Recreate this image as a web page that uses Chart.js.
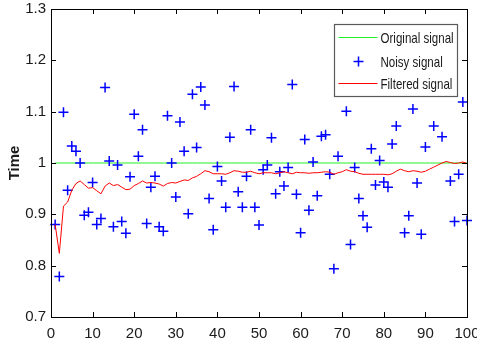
<!DOCTYPE html>
<html><head><meta charset="utf-8">
<script src="https://cdn.jsdelivr.net/npm/chart.js@4/dist/chart.umd.min.js"></script>
<style>html,body{margin:0;padding:0;background:#fff}#c{display:block}</style>
</head><body>
<canvas id="c" width="477" height="352"></canvas>
<script>
const sampleIndex = Array.from({length: 100}, (_, i) => i + 1);
const originalSignal = [
  1,1,1,1,1,1,1,1,1,1, 1,1,1,1,1,1,1,1,1,1,
  1,1,1,1,1,1,1,1,1,1, 1,1,1,1,1,1,1,1,1,1,
  1,1,1,1,1,1,1,1,1,1, 1,1,1,1,1,1,1,1,1,1,
  1,1,1,1,1,1,1,1,1,1, 1,1,1,1,1,1,1,1,1,1,
  1,1,1,1,1,1,1,1,1,1, 1,1,1,1,1,1,1,1,1,1
];
const noisySignal = [
  0.880,0.779,1.099,0.947,1.033,1.023,1.000,0.898,0.904,0.962,
  0.880,0.892,1.147,1.004,0.876,0.996,0.886,0.863,0.973,1.095,
  1.013,1.065,0.882,0.953,0.974,0.876,0.867,1.092,1.000,0.934,
  1.080,1.023,0.901,1.134,1.030,1.148,1.113,0.931,0.870,0.993,
  0.965,0.914,1.050,1.149,0.944,0.914,0.974,1.065,0.914,0.879,
  0.987,0.996,1.049,0.940,0.983,0.955,0.991,1.153,0.939,0.864,
  1.046,0.908,1.002,0.936,1.052,1.055,0.978,0.794,1.013,1.200,
  1.101,0.841,0.991,0.931,0.897,0.875,1.028,0.957,1.005,0.963,
  0.953,1.037,1.072,1.190,0.864,0.897,1.105,0.961,0.861,1.031,
  1.220,1.072,1.180,1.051,1.210,0.965,0.886,0.978,1.119,0.888
];
const filteredSignal = [
  0.880,0.824,0.916,0.924,0.947,0.960,0.965,0.958,0.951,0.952,
  0.946,0.940,0.955,0.961,0.956,0.958,0.953,0.948,0.949,0.956,
  0.960,0.965,0.961,0.962,0.961,0.959,0.955,0.960,0.962,0.961,
  0.964,0.967,0.966,0.971,0.974,0.979,0.985,0.983,0.979,0.979,
  0.979,0.978,0.981,0.985,0.984,0.982,0.982,0.984,0.981,0.979,
  0.981,0.981,0.981,0.979,0.981,0.983,0.981,0.979,0.982,0.981,
  0.981,0.980,0.981,0.981,0.982,0.983,0.982,0.978,0.981,0.983,
  0.987,0.984,0.983,0.980,0.978,0.978,0.978,0.978,0.978,0.978,
  0.977,0.979,0.984,0.988,0.985,0.983,0.985,0.984,0.982,0.984,
  0.988,0.992,0.996,1.000,1.003,1.001,0.999,1.000,1.002,0.999
];
const xTickValues = [0,10,20,30,40,50,60,70,80,90,100];
const xTickLabels = ['0','10','20','30','40','50','60','70','80','90','100'];
const yTickValues = [0.7,0.8,0.9,1.0,1.1,1.2,1.3];
const yTickLabels = ['0.7','0.8','0.9','1','1.1','1.2','1.3'];
const seriesNames = ['Original signal','Noisy signal','Filtered signal'];
const yAxisTitle = 'Time';

const FONT = "'Liberation Sans', Arial, sans-serif";
const TEXT = '#1a1a1a';
const GREEN = '#22ee22', BLUE = '#0000ff', RED = '#ff0000';

const toXY = arr => arr.map((v, i) => ({x: sampleIndex[i], y: v}));

const framePlugin = {
  id: 'frame',
  afterDraw(chart) {
    const {ctx, chartArea: a, scales} = chart;
    ctx.save();
    ctx.strokeStyle = '#000';
    ctx.lineWidth = 1;
    ctx.beginPath();
    const tl = 5;
    scales.x.ticks.forEach(t => {
      const px = Math.round(scales.x.getPixelForValue(t.value)) + 0.5;
      ctx.moveTo(px, a.bottom); ctx.lineTo(px, a.bottom - tl);
      ctx.moveTo(px, a.top); ctx.lineTo(px, a.top + tl);
    });
    scales.y.ticks.forEach(t => {
      const py = Math.round(scales.y.getPixelForValue(t.value)) + 0.5;
      ctx.moveTo(a.left, py); ctx.lineTo(a.left + tl, py);
      ctx.moveTo(a.right, py); ctx.lineTo(a.right - tl, py);
    });
    ctx.stroke();
    ctx.strokeRect(Math.round(a.left) + 0.5, Math.round(a.top) + 0.5,
                   Math.round(a.right - a.left), Math.round(a.bottom - a.top));

    // legend box inside the axes
    const bw = 123, bh = 72;
    const bx = Math.round(a.right - 10 - bw) + 0.5, by = Math.round(a.top + 15) + 0.5;
    ctx.fillStyle = '#fff';
    ctx.fillRect(bx, by, bw, bh);
    ctx.strokeStyle = '#5a5a5a';
    ctx.lineWidth = 1.2;
    ctx.strokeRect(bx, by, bw, bh);
    const rows = [13, 37, 59];
    const colors = [GREEN, BLUE, RED];
    rows.forEach((ry, i) => {
      const y = by + ry;
      ctx.strokeStyle = colors[i];
      ctx.lineWidth = 1;
      ctx.beginPath();
      if (i === 1) {
        const cx = bx + 24;
        ctx.lineWidth = 1.5;
        ctx.moveTo(cx - 5, y); ctx.lineTo(cx + 5, y);
        ctx.moveTo(cx, y - 5); ctx.lineTo(cx, y + 5);
      } else {
        ctx.moveTo(bx + 4, y); ctx.lineTo(bx + 43, y);
      }
      ctx.stroke();
      ctx.save();
      ctx.translate(bx + 46, y + 1);
      ctx.scale(0.77, 1);
      ctx.font = '15px ' + FONT;
      ctx.textBaseline = 'middle';
      ctx.textAlign = 'left';
      ctx.fillStyle = TEXT;
      ctx.fillText(seriesNames[i], 0, 0);
      ctx.restore();
    });
    ctx.restore();
  }
};

new Chart(document.getElementById('c'), {
  type: 'scatter',
  data: {
    datasets: [
      {label: seriesNames[0], data: toXY(originalSignal), showLine: true, borderColor: GREEN,
       borderWidth: 1, pointRadius: 0, order: 3, clip: false},
      {label: seriesNames[1], data: toXY(noisySignal), showLine: false, pointStyle: 'cross',
       pointRadius: 5, borderColor: BLUE, backgroundColor: BLUE, borderWidth: 1.5, order: 2, clip: false},
      {label: seriesNames[2], data: toXY(filteredSignal), showLine: true, borderColor: RED,
       borderWidth: 1, pointRadius: 0, order: 1, clip: false}
    ]
  },
  options: {
    responsive: false,
    devicePixelRatio: 1,
    animation: false,
    layout: {padding: {left: 0, top: 9, right: 10, bottom: 0}},
    plugins: {legend: {display: false}, tooltip: {enabled: false}},
    scales: {
      x: {
        type: 'linear', min: 0, max: 100,
        afterBuildTicks: s => { s.ticks = xTickValues.map(v => ({value: v})); },
        afterFit: s => { s.height = 35; s.paddingLeft = 0; s.paddingRight = 0; },
        ticks: {callback: (v, i) => xTickLabels[i], font: {family: FONT, size: 15}, color: TEXT, padding: 8, maxRotation: 0, autoSkip: false},
        grid: {display: false, drawTicks: false},
        border: {display: false}
      },
      y: {
        type: 'linear', min: 0.7, max: 1.3,
        afterBuildTicks: s => { s.ticks = yTickValues.map(v => ({value: v})); },
        afterFit: s => { s.width = 51; s.paddingTop = 0; s.paddingBottom = 0; },
        ticks: {callback: (v, i) => yTickLabels[i], font: {family: FONT, size: 15}, color: TEXT, padding: 5, autoSkip: false},
        grid: {display: false, drawTicks: false},
        border: {display: false},
        title: {display: true, text: yAxisTitle, font: {family: FONT, size: 15, weight: 'bold'}, color: TEXT, padding: {top: 6, bottom: 0}}
      }
    }
  },
  plugins: [framePlugin]
});
</script>
</body></html>
